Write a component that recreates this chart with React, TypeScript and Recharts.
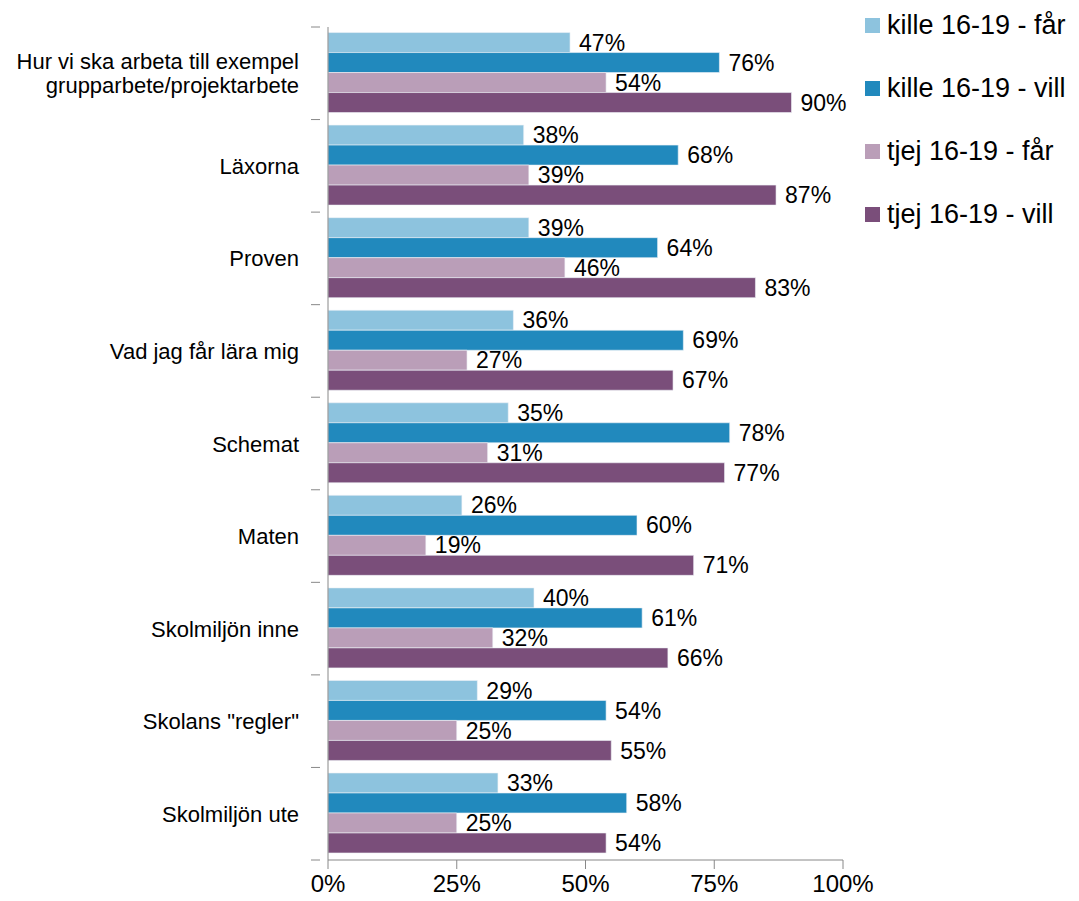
import { BarChart, Bar, XAxis, YAxis, LabelList } from 'recharts';

const categories = [
    'Hur vi ska arbeta till exempel\ngrupparbete/projektarbete',
    'Läxorna',
    'Proven',
    'Vad jag får lära mig',
    'Schemat',
    'Maten',
    'Skolmiljön inne',
    'Skolans "regler"',
    'Skolmiljön ute',
];
const killeFar = [47, 38, 39, 36, 35, 26, 40, 29, 33];
const killeVill = [76, 68, 64, 69, 78, 60, 61, 54, 58];
const tjejFar = [54, 39, 46, 27, 31, 19, 32, 25, 25];
const tjejVill = [90, 87, 83, 67, 77, 71, 66, 55, 54];
const xTicks = [0, 25, 50, 75, 100];

const series = [
    { key: 'killeFar', name: 'kille 16-19 - får', color: '#8DC3DE' },
    { key: 'killeVill', name: 'kille 16-19 - vill', color: '#2189BD' },
    { key: 'tjejFar', name: 'tjej 16-19 - får', color: '#BA9EB8' },
    { key: 'tjejVill', name: 'tjej 16-19 - vill', color: '#7A4E7A' },
];

const data = categories.map((name, i) => ({
    name,
    killeFar: killeFar[i],
    killeVill: killeVill[i],
    tjejFar: tjejFar[i],
    tjejVill: tjejVill[i],
}));

const FONT = '"Liberation Sans", Arial, sans-serif';
const W = 1079;
const H = 901;
const TOP = 27;
const X_AXIS_H = 41;
const BAND = (H - TOP - X_AXIS_H) / categories.length;

function CategoryTick(props: any) {
    const { x, y, payload } = props;
    const lines = String(payload.value).split('\n');
    const start = y - ((lines.length - 1) * 24) / 2;
    return (
        <g>
            <line x1={x - 9} x2={x} y1={y - BAND / 2} y2={y - BAND / 2} stroke="#888" />
            {payload.index === categories.length - 1 && (
                <line x1={x - 9} x2={x} y1={y + BAND / 2} y2={y + BAND / 2} stroke="#888" />
            )}
            <text x={x - 21} y={start} textAnchor="end" dominantBaseline="central" fontSize={22} fill="#000" fontFamily={FONT}>
                {lines.map((l, i) => (
                    <tspan key={i} x={x - 21} dy={i === 0 ? 0 : 24}>
                        {l}
                    </tspan>
                ))}
            </text>
        </g>
    );
}

export default function App() {
    // negative margin cancels the body margin so the chart fills the window
    return (
        <div style={{ position: 'relative', width: W, height: H, margin: -8 }}>
            <BarChart
                width={W}
                height={H}
                data={data}
                layout="vertical"
                margin={{ top: TOP, right: 236, bottom: 0, left: 0 }}
                barGap={0}
                barCategoryGap="6%"
            >
                <XAxis
                    type="number"
                    domain={[0, 100]}
                    ticks={xTicks}
                    tickFormatter={(v) => `${v}%`}
                    height={X_AXIS_H}
                    stroke="#888"
                    tickSize={9}
                    tickMargin={6}
                    tick={{ fontSize: 24, fill: '#000', fontFamily: FONT }}
                    interval={0}
                />
                <YAxis
                    type="category"
                    dataKey="name"
                    width={328}
                    stroke="#888"
                    tickLine={false}
                    tick={<CategoryTick />}
                    interval={0}
                />
                {series.map((s) => (
                    <Bar key={s.key} dataKey={s.key} name={s.name} fill={s.color} stroke="#eef2f6" strokeWidth={0.6} isAnimationActive={false}>
                        <LabelList
                            dataKey={s.key}
                            position="right"
                            offset={9}
                            formatter={(v: any) => `${v}%`}
                            style={{ fontSize: 23, fill: '#000', fontFamily: FONT }}
                        />
                    </Bar>
                ))}
            </BarChart>
            <div style={{ position: 'absolute', left: 865, top: 9, fontFamily: FONT }}>
                {series.map((s) => (
                    <div key={s.key} style={{ display: 'flex', alignItems: 'center', height: 32, marginBottom: 31 }}>
                        <span style={{ width: 15, height: 15, background: s.color, marginRight: 7 }} />
                        <span style={{ fontSize: 27, color: '#000', whiteSpace: 'nowrap' }}>{s.name}</span>
                    </div>
                ))}
            </div>
        </div>
    );
}
